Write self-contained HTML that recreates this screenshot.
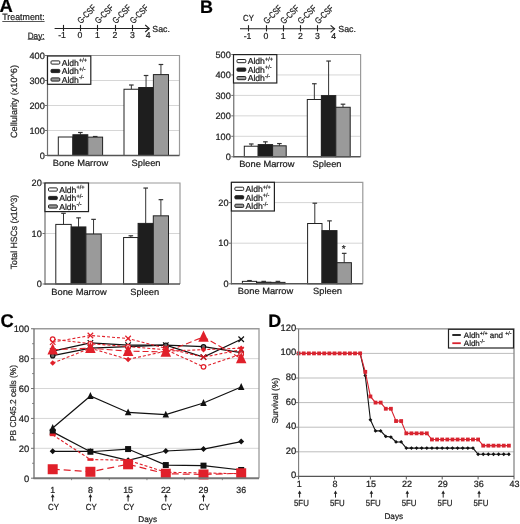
<!DOCTYPE html><html><head><meta charset="utf-8"><style>html,body{margin:0;padding:0;background:#fff;}svg{display:block;will-change:transform;font-family:"Liberation Sans",sans-serif;}text{stroke:#1a1a1a;stroke-width:0.22px;text-rendering:geometricPrecision;}</style></head><body>
<svg width="520" height="524" viewBox="0 0 520 524">
<rect width="520" height="524" fill="#fff"/>
<text x="-0.4" y="12.4" font-size="18.4" text-anchor="start" fill="#000" font-weight="bold" >A</text>
<text x="200.0" y="12.8" font-size="18" text-anchor="start" fill="#000" font-weight="bold" >B</text>
<text x="0.5" y="326.9" font-size="18.4" text-anchor="start" fill="#000" font-weight="bold" >C</text>
<text x="268.3" y="326.8" font-size="18" text-anchor="start" fill="#000" font-weight="bold" >D</text>
<text x="2.3" y="20.3" font-size="9.2" text-anchor="start" fill="#222" font-weight="normal" textLength="42.3" lengthAdjust="spacingAndGlyphs" >Treatment:</text>
<line x1="2.3" y1="21.5" x2="44.6" y2="21.5" stroke="#555" stroke-width="1" />
<text x="27.7" y="38.7" font-size="9.2" text-anchor="start" fill="#222" font-weight="normal" textLength="16.9" lengthAdjust="spacingAndGlyphs" >Day:</text>
<line x1="27.7" y1="39.3" x2="44.6" y2="39.3" stroke="#555" stroke-width="1" />
<line x1="54.6" y1="28.5" x2="149.2" y2="28.5" stroke="#222" stroke-width="1.1" />
<polyline points="145.2,25.0 149.2,28.5 145.2,32.0" fill="none" stroke="#222" stroke-width="1.1"/>
<line x1="63.5" y1="24.9" x2="63.5" y2="31.1" stroke="#222" stroke-width="1.1" />
<line x1="80.5" y1="24.9" x2="80.5" y2="31.1" stroke="#222" stroke-width="1.1" />
<line x1="97.5" y1="24.9" x2="97.5" y2="31.1" stroke="#222" stroke-width="1.1" />
<line x1="115.5" y1="24.9" x2="115.5" y2="31.1" stroke="#222" stroke-width="1.1" />
<line x1="132.5" y1="24.9" x2="132.5" y2="31.1" stroke="#222" stroke-width="1.1" />
<text x="62" y="38.4" font-size="8.7" text-anchor="middle" fill="#222" font-weight="normal" >-1</text>
<text x="80" y="38.4" font-size="8.7" text-anchor="middle" fill="#222" font-weight="normal" >0</text>
<text x="97.5" y="38.4" font-size="8.7" text-anchor="middle" fill="#222" font-weight="normal" >1</text>
<text x="115" y="38.4" font-size="8.7" text-anchor="middle" fill="#222" font-weight="normal" >2</text>
<text x="132.5" y="38.4" font-size="8.7" text-anchor="middle" fill="#222" font-weight="normal" >3</text>
<text x="148.2" y="38.4" font-size="8.7" text-anchor="middle" fill="#222" font-weight="normal" >4</text>
<text transform="translate(80.9,24.2) rotate(-45)" font-size="9" fill="#222" textLength="22.2" lengthAdjust="spacingAndGlyphs">G-CSF</text>
<text transform="translate(98.4,24.2) rotate(-45)" font-size="9" fill="#222" textLength="22.2" lengthAdjust="spacingAndGlyphs">G-CSF</text>
<text transform="translate(115.9,24.2) rotate(-45)" font-size="9" fill="#222" textLength="22.2" lengthAdjust="spacingAndGlyphs">G-CSF</text>
<text transform="translate(133.4,24.2) rotate(-45)" font-size="9" fill="#222" textLength="22.2" lengthAdjust="spacingAndGlyphs">G-CSF</text>
<text x="152.3" y="31.5" font-size="8.8" text-anchor="start" fill="#222" font-weight="normal" >Sac.</text>
<line x1="240" y1="28.8" x2="334.6" y2="28.8" stroke="#222" stroke-width="1.1" />
<polyline points="330.6,25.3 334.6,28.8 330.6,32.3" fill="none" stroke="#222" stroke-width="1.1"/>
<line x1="248.5" y1="25.2" x2="248.5" y2="31.400000000000002" stroke="#222" stroke-width="1.1" />
<line x1="266.5" y1="25.2" x2="266.5" y2="31.400000000000002" stroke="#222" stroke-width="1.1" />
<line x1="283.5" y1="25.2" x2="283.5" y2="31.400000000000002" stroke="#222" stroke-width="1.1" />
<line x1="300.5" y1="25.2" x2="300.5" y2="31.400000000000002" stroke="#222" stroke-width="1.1" />
<line x1="317.5" y1="25.2" x2="317.5" y2="31.400000000000002" stroke="#222" stroke-width="1.1" />
<text x="247.5" y="38.7" font-size="8.7" text-anchor="middle" fill="#222" font-weight="normal" >-1</text>
<text x="266" y="38.7" font-size="8.7" text-anchor="middle" fill="#222" font-weight="normal" >0</text>
<text x="283.2" y="38.7" font-size="8.7" text-anchor="middle" fill="#222" font-weight="normal" >1</text>
<text x="300.4" y="38.7" font-size="8.7" text-anchor="middle" fill="#222" font-weight="normal" >2</text>
<text x="317.5" y="38.7" font-size="8.7" text-anchor="middle" fill="#222" font-weight="normal" >3</text>
<text x="333.6" y="38.7" font-size="8.7" text-anchor="middle" fill="#222" font-weight="normal" >4</text>
<text transform="translate(266.9,24.5) rotate(-45)" font-size="9" fill="#222" textLength="22.2" lengthAdjust="spacingAndGlyphs">G-CSF</text>
<text transform="translate(284.09999999999997,24.5) rotate(-45)" font-size="9" fill="#222" textLength="22.2" lengthAdjust="spacingAndGlyphs">G-CSF</text>
<text transform="translate(301.29999999999995,24.5) rotate(-45)" font-size="9" fill="#222" textLength="22.2" lengthAdjust="spacingAndGlyphs">G-CSF</text>
<text transform="translate(318.4,24.5) rotate(-45)" font-size="9" fill="#222" textLength="22.2" lengthAdjust="spacingAndGlyphs">G-CSF</text>
<text x="338.3" y="31.8" font-size="8.8" text-anchor="start" fill="#222" font-weight="normal" >Sac.</text>
<text x="248.5" y="20.6" font-size="8.8" text-anchor="middle" fill="#222" font-weight="normal" textLength="10.8" lengthAdjust="spacingAndGlyphs" >CY</text>
<line x1="47.5" y1="130.5" x2="179.5" y2="130.5" stroke="#d6d6d6" stroke-width="1" />
<line x1="47.5" y1="105.5" x2="179.5" y2="105.5" stroke="#d6d6d6" stroke-width="1" />
<line x1="47.5" y1="80.5" x2="179.5" y2="80.5" stroke="#d6d6d6" stroke-width="1" />
<polyline points="47.5,55.5 179.5,55.5 179.5,155.5" fill="none" stroke="#9a9a9a" stroke-width="1.2"/>
<rect x="58.3" y="137.0" width="14.600000000000009" height="18.5" fill="#ffffff" stroke="#222" stroke-width="1"/>
<line x1="80.35" y1="134.75" x2="80.35" y2="132.5" stroke="#333" stroke-width="1" />
<line x1="78.05" y1="132.5" x2="82.64999999999999" y2="132.5" stroke="#333" stroke-width="1.2" />
<rect x="72.9" y="134.75" width="14.899999999999991" height="20.75" fill="#1e1e1e" stroke="#222" stroke-width="1"/>
<line x1="95.19999999999999" y1="137.125" x2="95.19999999999999" y2="136.5" stroke="#333" stroke-width="1" />
<line x1="92.89999999999999" y1="136.5" x2="97.49999999999999" y2="136.5" stroke="#333" stroke-width="1.2" />
<rect x="87.8" y="137.125" width="14.799999999999997" height="18.375" fill="#9a9a9a" stroke="#222" stroke-width="1"/>
<line x1="131.35" y1="89.25" x2="131.35" y2="85.0" stroke="#333" stroke-width="1" />
<line x1="129.04999999999998" y1="85.0" x2="133.65" y2="85.0" stroke="#333" stroke-width="1.2" />
<rect x="124" y="89.25" width="14.699999999999989" height="66.25" fill="#ffffff" stroke="#222" stroke-width="1"/>
<line x1="146.05" y1="87.5" x2="146.05" y2="75.5" stroke="#333" stroke-width="1" />
<line x1="143.75" y1="75.5" x2="148.35000000000002" y2="75.5" stroke="#333" stroke-width="1.2" />
<rect x="138.7" y="87.5" width="14.700000000000017" height="68.0" fill="#1e1e1e" stroke="#222" stroke-width="1"/>
<line x1="160.95" y1="74.6" x2="160.95" y2="64.5" stroke="#333" stroke-width="1" />
<line x1="158.64999999999998" y1="64.5" x2="163.25" y2="64.5" stroke="#333" stroke-width="1.2" />
<rect x="153.4" y="74.6" width="15.099999999999994" height="80.9" fill="#9a9a9a" stroke="#222" stroke-width="1"/>
<line x1="47.5" y1="55.5" x2="47.5" y2="156.0" stroke="#6e6e6e" stroke-width="1.2" />
<line x1="47.0" y1="155.5" x2="179.5" y2="155.5" stroke="#555" stroke-width="1.4" />
<line x1="45.0" y1="155.5" x2="47.5" y2="155.5" stroke="#6e6e6e" stroke-width="1" />
<text x="44.8" y="158.7" font-size="9.2" text-anchor="end" fill="#222" font-weight="normal" >0</text>
<line x1="45.0" y1="130.5" x2="47.5" y2="130.5" stroke="#6e6e6e" stroke-width="1" />
<text x="44.8" y="133.7" font-size="9.2" text-anchor="end" fill="#222" font-weight="normal" >100</text>
<line x1="45.0" y1="105.5" x2="47.5" y2="105.5" stroke="#6e6e6e" stroke-width="1" />
<text x="44.8" y="108.7" font-size="9.2" text-anchor="end" fill="#222" font-weight="normal" >200</text>
<line x1="45.0" y1="80.5" x2="47.5" y2="80.5" stroke="#6e6e6e" stroke-width="1" />
<text x="44.8" y="83.7" font-size="9.2" text-anchor="end" fill="#222" font-weight="normal" >300</text>
<line x1="45.0" y1="55.5" x2="47.5" y2="55.5" stroke="#6e6e6e" stroke-width="1" />
<text x="44.8" y="58.7" font-size="9.2" text-anchor="end" fill="#222" font-weight="normal" >400</text>
<rect x="47.5" y="56" width="43.3" height="28.3" fill="#fff" stroke="#222" stroke-width="1.2"/>
<rect x="51.0" y="60.9" width="8.8" height="3.2" rx="0.9" fill="#fff" stroke="#222" stroke-width="1"/>
<text x="61.7" y="65.7" font-size="8.6" fill="#222">Aldh<tspan font-size="5.6" dy="-3.4">+/+</tspan></text>
<rect x="51.0" y="69.4" width="8.8" height="3.2" rx="0.9" fill="#1e1e1e" stroke="#222" stroke-width="1"/>
<text x="61.7" y="74.2" font-size="8.6" fill="#222">Aldh<tspan font-size="5.6" dy="-3.4">+/-</tspan></text>
<rect x="51.0" y="77.9" width="8.8" height="3.2" rx="0.9" fill="#999" stroke="#222" stroke-width="1"/>
<text x="61.7" y="82.7" font-size="8.6" fill="#222">Aldh<tspan font-size="5.6" dy="-3.4">-/-</tspan></text>
<text x="80.5" y="166.0" font-size="9" text-anchor="middle" fill="#222" font-weight="normal" textLength="55.5" lengthAdjust="spacingAndGlyphs" >Bone Marrow</text>
<text x="146" y="166.0" font-size="9" text-anchor="middle" fill="#222" font-weight="normal" textLength="29" lengthAdjust="spacingAndGlyphs" >Spleen</text>
<text transform="translate(17.1,101.5) rotate(-90)" text-anchor="middle" font-size="9" fill="#333" textLength="73" lengthAdjust="spacingAndGlyphs">Cellularity (x10^6)</text>
<line x1="45" y1="233.5" x2="180" y2="233.5" stroke="#d6d6d6" stroke-width="1" />
<polyline points="45,183 180,183 180,284" fill="none" stroke="#9a9a9a" stroke-width="1.2"/>
<line x1="63.5" y1="224.41" x2="63.5" y2="213.3" stroke="#333" stroke-width="1" />
<line x1="61.2" y1="213.3" x2="65.8" y2="213.3" stroke="#333" stroke-width="1.2" />
<rect x="55.8" y="224.41" width="15.400000000000006" height="59.59" fill="#ffffff" stroke="#222" stroke-width="1"/>
<line x1="78.55000000000001" y1="226.935" x2="78.55000000000001" y2="217.845" stroke="#333" stroke-width="1" />
<line x1="76.25000000000001" y1="217.845" x2="80.85000000000001" y2="217.845" stroke="#333" stroke-width="1.2" />
<rect x="71.2" y="226.935" width="14.700000000000003" height="57.065" fill="#1e1e1e" stroke="#222" stroke-width="1"/>
<line x1="93.55000000000001" y1="234.005" x2="93.55000000000001" y2="219.35999999999999" stroke="#333" stroke-width="1" />
<line x1="91.25000000000001" y1="219.35999999999999" x2="95.85000000000001" y2="219.35999999999999" stroke="#333" stroke-width="1.2" />
<rect x="85.9" y="234.005" width="15.299999999999997" height="49.995000000000005" fill="#9a9a9a" stroke="#222" stroke-width="1"/>
<line x1="130.85" y1="237.54000000000002" x2="130.85" y2="235.77249999999998" stroke="#333" stroke-width="1" />
<line x1="128.54999999999998" y1="235.77249999999998" x2="133.15" y2="235.77249999999998" stroke="#333" stroke-width="1.2" />
<rect x="123.6" y="237.54000000000002" width="14.5" height="46.45999999999998" fill="#ffffff" stroke="#222" stroke-width="1"/>
<line x1="145.7" y1="223.4" x2="145.7" y2="188.05" stroke="#333" stroke-width="1" />
<line x1="143.39999999999998" y1="188.05" x2="148.0" y2="188.05" stroke="#333" stroke-width="1.2" />
<rect x="138.1" y="223.4" width="15.200000000000017" height="60.599999999999994" fill="#1e1e1e" stroke="#222" stroke-width="1"/>
<line x1="160.9" y1="215.825" x2="160.9" y2="199.66500000000002" stroke="#333" stroke-width="1" />
<line x1="158.6" y1="199.66500000000002" x2="163.20000000000002" y2="199.66500000000002" stroke="#333" stroke-width="1.2" />
<rect x="153.3" y="215.825" width="15.199999999999989" height="68.17500000000001" fill="#9a9a9a" stroke="#222" stroke-width="1"/>
<line x1="45" y1="183" x2="45" y2="284.5" stroke="#6e6e6e" stroke-width="1.2" />
<line x1="44.5" y1="284" x2="180" y2="284" stroke="#555" stroke-width="1.4" />
<line x1="42.5" y1="284.0" x2="45" y2="284.0" stroke="#6e6e6e" stroke-width="1" />
<text x="41.8" y="287.2" font-size="9.2" text-anchor="end" fill="#222" font-weight="normal" >0</text>
<line x1="42.5" y1="233.5" x2="45" y2="233.5" stroke="#6e6e6e" stroke-width="1" />
<text x="41.8" y="236.7" font-size="9.2" text-anchor="end" fill="#222" font-weight="normal" >10</text>
<line x1="42.5" y1="183.0" x2="45" y2="183.0" stroke="#6e6e6e" stroke-width="1" />
<text x="41.8" y="186.2" font-size="9.2" text-anchor="end" fill="#222" font-weight="normal" >20</text>
<rect x="45" y="183" width="43.5" height="28.6" fill="#fff" stroke="#222" stroke-width="1.2"/>
<rect x="48.5" y="187.9" width="8.8" height="3.2" rx="0.9" fill="#fff" stroke="#222" stroke-width="1"/>
<text x="59.2" y="192.7" font-size="8.6" fill="#222">Aldh<tspan font-size="5.6" dy="-3.4">+/+</tspan></text>
<rect x="48.5" y="196.4" width="8.8" height="3.2" rx="0.9" fill="#1e1e1e" stroke="#222" stroke-width="1"/>
<text x="59.2" y="201.2" font-size="8.6" fill="#222">Aldh<tspan font-size="5.6" dy="-3.4">+/-</tspan></text>
<rect x="48.5" y="204.9" width="8.8" height="3.2" rx="0.9" fill="#999" stroke="#222" stroke-width="1"/>
<text x="59.2" y="209.7" font-size="8.6" fill="#222">Aldh<tspan font-size="5.6" dy="-3.4">-/-</tspan></text>
<text x="79" y="294.5" font-size="9" text-anchor="middle" fill="#222" font-weight="normal" textLength="55.5" lengthAdjust="spacingAndGlyphs" >Bone Marrow</text>
<text x="144.7" y="294.5" font-size="9" text-anchor="middle" fill="#222" font-weight="normal" textLength="29" lengthAdjust="spacingAndGlyphs" >Spleen</text>
<text transform="translate(16.5,232) rotate(-90)" text-anchor="middle" font-size="9" fill="#333" textLength="74.5" lengthAdjust="spacingAndGlyphs">Total HSCs (x10^3)</text>
<line x1="233.75" y1="136.3" x2="360.6" y2="136.3" stroke="#d6d6d6" stroke-width="1" />
<line x1="233.75" y1="115.85" x2="360.6" y2="115.85" stroke="#d6d6d6" stroke-width="1" />
<line x1="233.75" y1="95.4" x2="360.6" y2="95.4" stroke="#d6d6d6" stroke-width="1" />
<line x1="233.75" y1="74.95" x2="360.6" y2="74.95" stroke="#d6d6d6" stroke-width="1" />
<polyline points="233.75,54.5 360.6,54.5 360.6,156.75" fill="none" stroke="#9a9a9a" stroke-width="1.2"/>
<line x1="251.25" y1="146.21825" x2="251.25" y2="143.96875" stroke="#333" stroke-width="1" />
<line x1="248.95" y1="143.96875" x2="253.55" y2="143.96875" stroke="#333" stroke-width="1.2" />
<rect x="244.3" y="146.21825" width="13.899999999999977" height="10.531749999999988" fill="#ffffff" stroke="#222" stroke-width="1"/>
<line x1="265.4" y1="144.58225" x2="265.4" y2="141.82150000000001" stroke="#333" stroke-width="1" />
<line x1="263.09999999999997" y1="141.82150000000001" x2="267.7" y2="141.82150000000001" stroke="#333" stroke-width="1.2" />
<rect x="258.2" y="144.58225" width="14.400000000000034" height="12.167750000000012" fill="#1e1e1e" stroke="#222" stroke-width="1"/>
<line x1="279.4" y1="145.80925" x2="279.4" y2="143.55975" stroke="#333" stroke-width="1" />
<line x1="277.09999999999997" y1="143.55975" x2="281.7" y2="143.55975" stroke="#333" stroke-width="1.2" />
<rect x="272.6" y="145.80925" width="13.599999999999966" height="10.940750000000008" fill="#9a9a9a" stroke="#222" stroke-width="1"/>
<line x1="314.35" y1="99.49000000000001" x2="314.35" y2="83.7435" stroke="#333" stroke-width="1" />
<line x1="312.05" y1="83.7435" x2="316.65000000000003" y2="83.7435" stroke="#333" stroke-width="1.2" />
<rect x="307.3" y="99.49000000000001" width="14.099999999999966" height="57.25999999999999" fill="#ffffff" stroke="#222" stroke-width="1"/>
<line x1="328.6" y1="95.6045" x2="328.6" y2="61.044" stroke="#333" stroke-width="1" />
<line x1="326.3" y1="61.044" x2="330.90000000000003" y2="61.044" stroke="#333" stroke-width="1.2" />
<rect x="321.4" y="95.6045" width="14.400000000000034" height="61.1455" fill="#1e1e1e" stroke="#222" stroke-width="1"/>
<line x1="343.0" y1="107.261" x2="343.0" y2="104.1935" stroke="#333" stroke-width="1" />
<line x1="340.7" y1="104.1935" x2="345.3" y2="104.1935" stroke="#333" stroke-width="1.2" />
<rect x="335.8" y="107.261" width="14.399999999999977" height="49.489000000000004" fill="#9a9a9a" stroke="#222" stroke-width="1"/>
<line x1="233.75" y1="54.5" x2="233.75" y2="157.25" stroke="#6e6e6e" stroke-width="1.2" />
<line x1="233.25" y1="156.75" x2="360.6" y2="156.75" stroke="#555" stroke-width="1.4" />
<line x1="231.25" y1="156.75" x2="233.75" y2="156.75" stroke="#6e6e6e" stroke-width="1" />
<text x="230.8" y="159.95" font-size="9.2" text-anchor="end" fill="#222" font-weight="normal" >0</text>
<line x1="231.25" y1="136.3" x2="233.75" y2="136.3" stroke="#6e6e6e" stroke-width="1" />
<text x="230.8" y="139.5" font-size="9.2" text-anchor="end" fill="#222" font-weight="normal" >100</text>
<line x1="231.25" y1="115.85" x2="233.75" y2="115.85" stroke="#6e6e6e" stroke-width="1" />
<text x="230.8" y="119.05" font-size="9.2" text-anchor="end" fill="#222" font-weight="normal" >200</text>
<line x1="231.25" y1="95.4" x2="233.75" y2="95.4" stroke="#6e6e6e" stroke-width="1" />
<text x="230.8" y="98.60000000000001" font-size="9.2" text-anchor="end" fill="#222" font-weight="normal" >300</text>
<line x1="231.25" y1="74.95" x2="233.75" y2="74.95" stroke="#6e6e6e" stroke-width="1" />
<text x="230.8" y="78.15" font-size="9.2" text-anchor="end" fill="#222" font-weight="normal" >400</text>
<line x1="231.25" y1="54.5" x2="233.75" y2="54.5" stroke="#6e6e6e" stroke-width="1" />
<text x="230.8" y="57.7" font-size="9.2" text-anchor="end" fill="#222" font-weight="normal" >500</text>
<rect x="233.5" y="54.6" width="43.3" height="28.4" fill="#fff" stroke="#222" stroke-width="1.2"/>
<rect x="237.0" y="59.5" width="8.8" height="3.2" rx="0.9" fill="#fff" stroke="#222" stroke-width="1"/>
<text x="247.7" y="64.3" font-size="8.6" fill="#222">Aldh<tspan font-size="5.6" dy="-3.4">+/+</tspan></text>
<rect x="237.0" y="68.0" width="8.8" height="3.2" rx="0.9" fill="#1e1e1e" stroke="#222" stroke-width="1"/>
<text x="247.7" y="72.8" font-size="8.6" fill="#222">Aldh<tspan font-size="5.6" dy="-3.4">+/-</tspan></text>
<rect x="237.0" y="76.5" width="8.8" height="3.2" rx="0.9" fill="#999" stroke="#222" stroke-width="1"/>
<text x="247.7" y="81.3" font-size="8.6" fill="#222">Aldh<tspan font-size="5.6" dy="-3.4">-/-</tspan></text>
<text x="266.8" y="167.25" font-size="9" text-anchor="middle" fill="#222" font-weight="normal" textLength="55.3" lengthAdjust="spacingAndGlyphs" >Bone Marrow</text>
<text x="327" y="167.25" font-size="9" text-anchor="middle" fill="#222" font-weight="normal" textLength="29" lengthAdjust="spacingAndGlyphs" >Spleen</text>
<line x1="231.4" y1="243.20000000000002" x2="362.8" y2="243.20000000000002" stroke="#d6d6d6" stroke-width="1" />
<line x1="231.4" y1="202.60000000000002" x2="362.8" y2="202.60000000000002" stroke="#d6d6d6" stroke-width="1" />
<polyline points="231.4,182.3 362.8,182.3 362.8,283.8" fill="none" stroke="#9a9a9a" stroke-width="1.2"/>
<line x1="249.5" y1="281.36400000000003" x2="249.5" y2="280.552" stroke="#333" stroke-width="1" />
<line x1="247.2" y1="280.552" x2="251.8" y2="280.552" stroke="#333" stroke-width="1.2" />
<rect x="242.4" y="281.36400000000003" width="14.200000000000017" height="2.4359999999999786" fill="#ffffff" stroke="#222" stroke-width="1"/>
<line x1="263.70000000000005" y1="282.176" x2="263.70000000000005" y2="281.36400000000003" stroke="#333" stroke-width="1" />
<line x1="261.40000000000003" y1="281.36400000000003" x2="266.00000000000006" y2="281.36400000000003" stroke="#333" stroke-width="1.2" />
<rect x="256.6" y="282.176" width="14.199999999999989" height="1.6240000000000236" fill="#1e1e1e" stroke="#222" stroke-width="1"/>
<line x1="277.9" y1="282.379" x2="277.9" y2="281.36400000000003" stroke="#333" stroke-width="1" />
<line x1="275.59999999999997" y1="281.36400000000003" x2="280.2" y2="281.36400000000003" stroke="#333" stroke-width="1.2" />
<rect x="270.8" y="282.379" width="14.199999999999989" height="1.4209999999999923" fill="#9a9a9a" stroke="#222" stroke-width="1"/>
<line x1="314.8" y1="223.50900000000001" x2="314.8" y2="203.209" stroke="#333" stroke-width="1" />
<line x1="312.5" y1="203.209" x2="317.1" y2="203.209" stroke="#333" stroke-width="1.2" />
<rect x="307.6" y="223.50900000000001" width="14.399999999999977" height="60.291" fill="#ffffff" stroke="#222" stroke-width="1"/>
<line x1="329.5" y1="230.61400000000003" x2="329.5" y2="220.87" stroke="#333" stroke-width="1" />
<line x1="327.2" y1="220.87" x2="331.8" y2="220.87" stroke="#333" stroke-width="1.2" />
<rect x="322" y="230.61400000000003" width="15" height="53.18599999999998" fill="#1e1e1e" stroke="#222" stroke-width="1"/>
<line x1="344.2" y1="262.688" x2="344.2" y2="253.35000000000002" stroke="#333" stroke-width="1" />
<line x1="341.9" y1="253.35000000000002" x2="346.5" y2="253.35000000000002" stroke="#333" stroke-width="1.2" />
<rect x="337" y="262.688" width="14.399999999999977" height="21.112000000000023" fill="#9a9a9a" stroke="#222" stroke-width="1"/>
<line x1="231.4" y1="182.3" x2="231.4" y2="284.3" stroke="#6e6e6e" stroke-width="1.2" />
<line x1="230.9" y1="283.8" x2="362.8" y2="283.8" stroke="#555" stroke-width="1.4" />
<line x1="228.9" y1="283.8" x2="231.4" y2="283.8" stroke="#6e6e6e" stroke-width="1" />
<text x="228.5" y="287.0" font-size="9.2" text-anchor="end" fill="#222" font-weight="normal" >0</text>
<line x1="228.9" y1="243.20000000000002" x2="231.4" y2="243.20000000000002" stroke="#6e6e6e" stroke-width="1" />
<text x="228.5" y="246.4" font-size="9.2" text-anchor="end" fill="#222" font-weight="normal" >10</text>
<line x1="228.9" y1="202.60000000000002" x2="231.4" y2="202.60000000000002" stroke="#6e6e6e" stroke-width="1" />
<text x="228.5" y="205.8" font-size="9.2" text-anchor="end" fill="#222" font-weight="normal" >20</text>
<rect x="231.4" y="182.3" width="43" height="28.7" fill="#fff" stroke="#222" stroke-width="1.2"/>
<rect x="234.9" y="187.20000000000002" width="8.8" height="3.2" rx="0.9" fill="#fff" stroke="#222" stroke-width="1"/>
<text x="245.6" y="192.0" font-size="8.6" fill="#222">Aldh<tspan font-size="5.6" dy="-3.4">+/+</tspan></text>
<rect x="234.9" y="195.70000000000002" width="8.8" height="3.2" rx="0.9" fill="#1e1e1e" stroke="#222" stroke-width="1"/>
<text x="245.6" y="200.5" font-size="8.6" fill="#222">Aldh<tspan font-size="5.6" dy="-3.4">+/-</tspan></text>
<rect x="234.9" y="204.20000000000002" width="8.8" height="3.2" rx="0.9" fill="#999" stroke="#222" stroke-width="1"/>
<text x="245.6" y="209.0" font-size="8.6" fill="#222">Aldh<tspan font-size="5.6" dy="-3.4">-/-</tspan></text>
<text x="265.5" y="294.3" font-size="9" text-anchor="middle" fill="#222" font-weight="normal" textLength="55.3" lengthAdjust="spacingAndGlyphs" >Bone Marrow</text>
<text x="327.5" y="294.3" font-size="9" text-anchor="middle" fill="#222" font-weight="normal" textLength="29" lengthAdjust="spacingAndGlyphs" >Spleen</text>
<text x="343.8" y="251.5" font-size="10" text-anchor="middle" fill="#333" font-weight="normal" >*</text>
<line x1="34" y1="448.31" x2="259" y2="448.31" stroke="#d6d6d6" stroke-width="1" />
<line x1="34" y1="418.41999999999996" x2="259" y2="418.41999999999996" stroke="#d6d6d6" stroke-width="1" />
<line x1="34" y1="388.53" x2="259" y2="388.53" stroke="#d6d6d6" stroke-width="1" />
<line x1="34" y1="358.64" x2="259" y2="358.64" stroke="#d6d6d6" stroke-width="1" />
<polyline points="34,328.75 259,328.75 259,478.2" fill="none" stroke="#9a9a9a" stroke-width="1.3"/>
<polyline points="52.70,351.17 90.40,342.95 128.10,345.19 165.80,345.19 203.50,357.15 241.20,339.21" fill="none" stroke="#111" stroke-width="1.2"/>
<path d="M49.95,348.4175L55.45,353.9175M49.95,353.9175L55.45,348.4175" stroke="#111" stroke-width="1.2"/>
<path d="M87.65,340.19775000000004L93.15,345.69775000000004M87.65,345.69775000000004L93.15,340.19775000000004" stroke="#111" stroke-width="1.2"/>
<path d="M125.35000000000002,342.4395L130.85000000000002,347.9395M125.35000000000002,347.9395L130.85000000000002,342.4395" stroke="#111" stroke-width="1.2"/>
<path d="M163.05,342.4395L168.55,347.9395M163.05,347.9395L168.55,342.4395" stroke="#111" stroke-width="1.2"/>
<path d="M200.75,354.39549999999997L206.25,359.89549999999997M200.75,359.89549999999997L206.25,354.39549999999997" stroke="#111" stroke-width="1.2"/>
<path d="M238.45,336.4615L243.95,341.9615M238.45,341.9615L243.95,336.4615" stroke="#111" stroke-width="1.2"/>
<polyline points="52.70,355.65 90.40,348.18 128.10,346.68 165.80,345.19 203.50,346.68 241.20,352.66" fill="none" stroke="#111" stroke-width="1.2"/>
<circle cx="52.7" cy="355.651" r="2.2" fill="#666" stroke="#111" stroke-width="1.2"/>
<circle cx="90.4" cy="348.1785" r="2.2" fill="#666" stroke="#111" stroke-width="1.2"/>
<circle cx="128.10000000000002" cy="346.68399999999997" r="2.2" fill="#666" stroke="#111" stroke-width="1.2"/>
<circle cx="165.8" cy="345.1895" r="2.2" fill="#666" stroke="#111" stroke-width="1.2"/>
<circle cx="203.5" cy="346.68399999999997" r="2.2" fill="#666" stroke="#111" stroke-width="1.2"/>
<circle cx="241.2" cy="352.662" r="2.2" fill="#666" stroke="#111" stroke-width="1.2"/>
<polyline points="52.70,427.98 90.40,396.00 128.10,412.44 165.80,414.68 203.50,403.03 241.20,387.04" fill="none" stroke="#111" stroke-width="1.2"/>
<polygon points="52.7,423.95480000000003 49.45,430.9098 55.95,430.9098" fill="#111"/>
<polygon points="90.4,391.9725 87.15,398.9275 93.65,398.9275" fill="#111"/>
<polygon points="128.10000000000002,408.41200000000003 124.85000000000002,415.367 131.35000000000002,415.367" fill="#111"/>
<polygon points="165.8,410.65375 162.55,417.60875 169.05,417.60875" fill="#111"/>
<polygon points="203.5,398.99665000000005 200.25,405.95165000000003 206.75,405.95165000000003" fill="#111"/>
<polygon points="241.2,383.00550000000004 237.95,389.9605 244.45,389.9605" fill="#111"/>
<polyline points="52.70,431.87 90.40,451.75 128.10,449.06 165.80,465.05 203.50,465.65 241.20,469.98" fill="none" stroke="#111" stroke-width="1.2"/>
<rect x="49.7" y="428.8705" width="6" height="6" fill="#111"/>
<rect x="87.4" y="448.74735" width="6" height="6" fill="#111"/>
<rect x="125.10000000000002" y="446.05725" width="6" height="6" fill="#111"/>
<rect x="162.8" y="462.0484" width="6" height="6" fill="#111"/>
<rect x="200.5" y="462.64619999999996" width="6" height="6" fill="#111"/>
<rect x="238.2" y="466.98025" width="6" height="6" fill="#111"/>
<polyline points="52.70,451.30 90.40,451.30 128.10,460.27 165.80,451.00 203.50,449.06 241.20,441.58" fill="none" stroke="#111" stroke-width="1.2"/>
<polygon points="52.7,448.299 55.7,451.299 52.7,454.299 49.7,451.299" fill="#111"/>
<polygon points="90.4,448.299 93.4,451.299 90.4,454.299 87.4,451.299" fill="#111"/>
<polygon points="128.10000000000002,457.26599999999996 131.10000000000002,460.26599999999996 128.10000000000002,463.26599999999996 125.10000000000002,460.26599999999996" fill="#111"/>
<polygon points="165.8,448.0001 168.8,451.0001 165.8,454.0001 162.8,451.0001" fill="#111"/>
<polygon points="203.5,446.05725 206.5,449.05725 203.5,452.05725 200.5,449.05725" fill="#111"/>
<polygon points="241.2,438.58475 244.2,441.58475 241.2,444.58475 238.2,441.58475" fill="#111"/>
<polyline points="52.70,339.21 90.40,343.69 128.10,346.68 165.80,349.67 203.50,366.86 241.20,354.16" fill="none" stroke="#e0202a" stroke-width="1.1" stroke-dasharray="3,2"/>
<circle cx="52.7" cy="339.2115" r="2.3" fill="#fff" stroke="#e0202a" stroke-width="1.2"/>
<circle cx="90.4" cy="343.695" r="2.3" fill="#fff" stroke="#e0202a" stroke-width="1.2"/>
<circle cx="128.10000000000002" cy="346.68399999999997" r="2.3" fill="#fff" stroke="#e0202a" stroke-width="1.2"/>
<circle cx="165.8" cy="349.673" r="2.3" fill="#fff" stroke="#e0202a" stroke-width="1.2"/>
<circle cx="203.5" cy="366.85974999999996" r="2.3" fill="#fff" stroke="#e0202a" stroke-width="1.2"/>
<circle cx="241.2" cy="354.1565" r="2.3" fill="#fff" stroke="#e0202a" stroke-width="1.2"/>
<polyline points="52.70,342.20 90.40,335.48 128.10,338.46 165.80,348.18 203.50,357.15 241.20,349.67" fill="none" stroke="#e0202a" stroke-width="1.1" stroke-dasharray="3,2"/>
<path d="M49.95,339.45050000000003L55.45,344.95050000000003M49.95,344.95050000000003L55.45,339.45050000000003" stroke="#e0202a" stroke-width="1.2"/>
<path d="M87.65,332.72525L93.15,338.22525M87.65,338.22525L93.15,332.72525" stroke="#e0202a" stroke-width="1.2"/>
<path d="M125.35000000000002,335.71425L130.85000000000002,341.21425M125.35000000000002,341.21425L130.85000000000002,335.71425" stroke="#e0202a" stroke-width="1.2"/>
<path d="M163.05,345.4285L168.55,350.9285M163.05,350.9285L168.55,345.4285" stroke="#e0202a" stroke-width="1.2"/>
<path d="M200.75,354.39549999999997L206.25,359.89549999999997M200.75,359.89549999999997L206.25,354.39549999999997" stroke="#e0202a" stroke-width="1.2"/>
<path d="M238.45,346.923L243.95,352.423M238.45,352.423L243.95,346.923" stroke="#e0202a" stroke-width="1.2"/>
<polyline points="52.70,363.12 90.40,348.18 128.10,359.39 165.80,351.17 203.50,349.67 241.20,348.18" fill="none" stroke="#e0202a" stroke-width="1.1" stroke-dasharray="3,2"/>
<polygon points="52.7,360.3735 55.45,363.1235 52.7,365.8735 49.95,363.1235" fill="#e0202a"/>
<polygon points="90.4,345.4285 93.15,348.1785 90.4,350.9285 87.65,348.1785" fill="#e0202a"/>
<polygon points="128.10000000000002,356.63725 130.85000000000002,359.38725 128.10000000000002,362.13725 125.35000000000002,359.38725" fill="#e0202a"/>
<polygon points="165.8,348.4175 168.55,351.1675 165.8,353.9175 163.05,351.1675" fill="#e0202a"/>
<polygon points="203.5,346.923 206.25,349.673 203.5,352.423 200.75,349.673" fill="#e0202a"/>
<polygon points="241.2,345.4285 243.95,348.1785 241.2,350.9285 238.45,348.1785" fill="#e0202a"/>
<polyline points="52.70,349.67 90.40,348.18 128.10,351.17 165.80,351.91 203.50,336.97 241.20,358.64" fill="none" stroke="#e0202a" stroke-width="1.1" stroke-dasharray="6,3"/>
<polygon points="52.7,343.163 47.45,354.398 57.95,354.398" fill="#e0202a"/>
<polygon points="90.4,341.6685 85.15,352.9035 95.65,352.9035" fill="#e0202a"/>
<polygon points="128.10000000000002,344.6575 122.85000000000002,355.89250000000004 133.35000000000002,355.89250000000004" fill="#e0202a"/>
<polygon points="165.8,345.40475000000004 160.55,356.63975000000005 171.05,356.63975000000005" fill="#e0202a"/>
<polygon points="203.5,330.45975 198.25,341.69475 208.75,341.69475" fill="#e0202a"/>
<polygon points="241.2,352.13 235.95,363.365 246.45,363.365" fill="#e0202a"/>
<polyline points="52.70,434.86 90.40,459.52 128.10,460.27 165.80,472.22 203.50,472.97 241.20,473.72" fill="none" stroke="#e0202a" stroke-width="1.1" stroke-dasharray="3,2"/>
<rect x="49.7" y="433.5595" width="6" height="2.6" fill="#e0202a"/>
<rect x="87.4" y="458.21875" width="6" height="2.6" fill="#e0202a"/>
<rect x="125.10000000000002" y="458.96599999999995" width="6" height="2.6" fill="#e0202a"/>
<rect x="162.8" y="470.92199999999997" width="6" height="2.6" fill="#e0202a"/>
<rect x="200.5" y="471.66925" width="6" height="2.6" fill="#e0202a"/>
<rect x="238.2" y="472.4165" width="6" height="2.6" fill="#e0202a"/>
<polyline points="52.70,469.23 90.40,471.77 128.10,464.30 165.80,473.72 203.50,474.46 241.20,473.27" fill="none" stroke="#e0202a" stroke-width="1.2" stroke-dasharray="7,4"/>
<rect x="47.7" y="464.233" width="10" height="10" fill="#e0202a"/>
<rect x="85.4" y="466.77365" width="10" height="10" fill="#e0202a"/>
<rect x="123.10000000000002" y="459.30115" width="10" height="10" fill="#e0202a"/>
<rect x="160.8" y="468.7165" width="10" height="10" fill="#e0202a"/>
<rect x="198.5" y="469.46375" width="10" height="10" fill="#e0202a"/>
<rect x="236.2" y="468.26815" width="10" height="10" fill="#e0202a"/>
<line x1="34" y1="328.75" x2="34" y2="478.7" stroke="#6e6e6e" stroke-width="1.3" />
<line x1="33.5" y1="478.2" x2="259" y2="478.2" stroke="#777" stroke-width="2" />
<line x1="31" y1="478.2" x2="34" y2="478.2" stroke="#6e6e6e" stroke-width="1" />
<text x="29.3" y="481.59999999999997" font-size="9.4" text-anchor="end" fill="#222" font-weight="normal" >0</text>
<line x1="31" y1="448.31" x2="34" y2="448.31" stroke="#6e6e6e" stroke-width="1" />
<text x="29.3" y="451.71" font-size="9.4" text-anchor="end" fill="#222" font-weight="normal" >20</text>
<line x1="31" y1="418.41999999999996" x2="34" y2="418.41999999999996" stroke="#6e6e6e" stroke-width="1" />
<text x="29.3" y="421.81999999999994" font-size="9.4" text-anchor="end" fill="#222" font-weight="normal" >40</text>
<line x1="31" y1="388.53" x2="34" y2="388.53" stroke="#6e6e6e" stroke-width="1" />
<text x="29.3" y="391.92999999999995" font-size="9.4" text-anchor="end" fill="#222" font-weight="normal" >60</text>
<line x1="31" y1="358.64" x2="34" y2="358.64" stroke="#6e6e6e" stroke-width="1" />
<text x="29.3" y="362.03999999999996" font-size="9.4" text-anchor="end" fill="#222" font-weight="normal" >80</text>
<line x1="31" y1="328.75" x2="34" y2="328.75" stroke="#6e6e6e" stroke-width="1" />
<text x="29.3" y="332.15" font-size="9.4" text-anchor="end" fill="#222" font-weight="normal" >100</text>
<line x1="32" y1="463.255" x2="34" y2="463.255" stroke="#6e6e6e" stroke-width="0.8" />
<line x1="32" y1="433.365" x2="34" y2="433.365" stroke="#6e6e6e" stroke-width="0.8" />
<line x1="32" y1="403.475" x2="34" y2="403.475" stroke="#6e6e6e" stroke-width="0.8" />
<line x1="32" y1="373.585" x2="34" y2="373.585" stroke="#6e6e6e" stroke-width="0.8" />
<line x1="32" y1="343.695" x2="34" y2="343.695" stroke="#6e6e6e" stroke-width="0.8" />
<line x1="71.55000000000001" y1="478.2" x2="71.55000000000001" y2="480.2" stroke="#6e6e6e" stroke-width="0.8" />
<line x1="109.25" y1="478.2" x2="109.25" y2="480.2" stroke="#6e6e6e" stroke-width="0.8" />
<line x1="146.95" y1="478.2" x2="146.95" y2="480.2" stroke="#6e6e6e" stroke-width="0.8" />
<line x1="184.64999999999998" y1="478.2" x2="184.64999999999998" y2="480.2" stroke="#6e6e6e" stroke-width="0.8" />
<line x1="222.35000000000002" y1="478.2" x2="222.35000000000002" y2="480.2" stroke="#6e6e6e" stroke-width="0.8" />
<text x="52.7" y="492.5" font-size="8.8" text-anchor="middle" fill="#222" font-weight="normal" >1</text>
<line x1="52.7" y1="496" x2="52.7" y2="501.5" stroke="#222" stroke-width="1" />
<polygon points="52.7,494 50.900000000000006,497.2 54.5,497.2" fill="#222"/>
<text x="53.5" y="510.3" font-size="8.8" text-anchor="middle" fill="#222" font-weight="normal" textLength="11" lengthAdjust="spacingAndGlyphs" >CY</text>
<text x="90.4" y="492.5" font-size="8.8" text-anchor="middle" fill="#222" font-weight="normal" >8</text>
<line x1="90.4" y1="496" x2="90.4" y2="501.5" stroke="#222" stroke-width="1" />
<polygon points="90.4,494 88.60000000000001,497.2 92.2,497.2" fill="#222"/>
<text x="91.2" y="510.3" font-size="8.8" text-anchor="middle" fill="#222" font-weight="normal" textLength="11" lengthAdjust="spacingAndGlyphs" >CY</text>
<text x="128.10000000000002" y="492.5" font-size="8.8" text-anchor="middle" fill="#222" font-weight="normal" >15</text>
<line x1="128.10000000000002" y1="496" x2="128.10000000000002" y2="501.5" stroke="#222" stroke-width="1" />
<polygon points="128.10000000000002,494 126.30000000000003,497.2 129.90000000000003,497.2" fill="#222"/>
<text x="128.90000000000003" y="510.3" font-size="8.8" text-anchor="middle" fill="#222" font-weight="normal" textLength="11" lengthAdjust="spacingAndGlyphs" >CY</text>
<text x="165.8" y="492.5" font-size="8.8" text-anchor="middle" fill="#222" font-weight="normal" >22</text>
<line x1="165.8" y1="496" x2="165.8" y2="501.5" stroke="#222" stroke-width="1" />
<polygon points="165.8,494 164.0,497.2 167.60000000000002,497.2" fill="#222"/>
<text x="166.60000000000002" y="510.3" font-size="8.8" text-anchor="middle" fill="#222" font-weight="normal" textLength="11" lengthAdjust="spacingAndGlyphs" >CY</text>
<text x="203.5" y="492.5" font-size="8.8" text-anchor="middle" fill="#222" font-weight="normal" >29</text>
<line x1="203.5" y1="496" x2="203.5" y2="501.5" stroke="#222" stroke-width="1" />
<polygon points="203.5,494 201.7,497.2 205.3,497.2" fill="#222"/>
<text x="204.3" y="510.3" font-size="8.8" text-anchor="middle" fill="#222" font-weight="normal" textLength="11" lengthAdjust="spacingAndGlyphs" >CY</text>
<text x="241.2" y="492.5" font-size="8.8" text-anchor="middle" fill="#222" font-weight="normal" >36</text>
<text x="147.7" y="521.5" font-size="8.2" text-anchor="middle" fill="#222" font-weight="normal" >Days</text>
<text transform="translate(16.3,403) rotate(-90)" text-anchor="middle" font-size="8.6" fill="#333" textLength="76" lengthAdjust="spacingAndGlyphs">PB CD45.2 cells (%)</text>
<line x1="298.6" y1="451.8" x2="514" y2="451.8" stroke="#bdbdbd" stroke-width="1" />
<line x1="298.6" y1="427.2" x2="514" y2="427.2" stroke="#bdbdbd" stroke-width="1" />
<line x1="298.6" y1="402.6" x2="514" y2="402.6" stroke="#bdbdbd" stroke-width="1" />
<line x1="298.6" y1="378.0" x2="514" y2="378.0" stroke="#bdbdbd" stroke-width="1" />
<line x1="298.6" y1="353.4" x2="514" y2="353.4" stroke="#bdbdbd" stroke-width="1" />
<polyline points="298.6,328.8 514,328.8 514,476.4" fill="none" stroke="#888" stroke-width="1.3"/>
<polyline points="360.14,353.40 365.27,375.54 370.40,419.82 375.53,430.89 380.66,430.89 385.79,436.42 390.91,437.04 396.04,441.96 401.17,441.96 406.30,448.11 411.43,448.11 416.56,448.11 421.69,448.11 426.81,448.11 431.94,448.11 437.07,448.11 442.20,448.11 447.33,448.11 452.46,448.11 457.59,448.11 462.71,448.11 467.84,448.11 472.97,448.11 478.10,454.26 483.23,454.26 488.36,454.26 493.49,454.26 498.61,454.26 503.74,454.26 508.87,454.26" fill="none" stroke="#111" stroke-width="1.1"/>
<polygon points="360.14,351.50 362.04,353.40 360.14,355.30 358.24,353.40" fill="#111"/>
<polygon points="365.27,373.64 367.17,375.54 365.27,377.44 363.37,375.54" fill="#111"/>
<polygon points="370.40,417.92 372.30,419.82 370.40,421.72 368.50,419.82" fill="#111"/>
<polygon points="375.53,428.99 377.43,430.89 375.53,432.79 373.63,430.89" fill="#111"/>
<polygon points="380.66,428.99 382.56,430.89 380.66,432.79 378.76,430.89" fill="#111"/>
<polygon points="385.79,434.52 387.69,436.42 385.79,438.32 383.89,436.42" fill="#111"/>
<polygon points="390.91,435.14 392.81,437.04 390.91,438.94 389.01,437.04" fill="#111"/>
<polygon points="396.04,440.06 397.94,441.96 396.04,443.86 394.14,441.96" fill="#111"/>
<polygon points="401.17,440.06 403.07,441.96 401.17,443.86 399.27,441.96" fill="#111"/>
<polygon points="406.30,446.21 408.20,448.11 406.30,450.01 404.40,448.11" fill="#111"/>
<polygon points="411.43,446.21 413.33,448.11 411.43,450.01 409.53,448.11" fill="#111"/>
<polygon points="416.56,446.21 418.46,448.11 416.56,450.01 414.66,448.11" fill="#111"/>
<polygon points="421.69,446.21 423.59,448.11 421.69,450.01 419.79,448.11" fill="#111"/>
<polygon points="426.81,446.21 428.71,448.11 426.81,450.01 424.91,448.11" fill="#111"/>
<polygon points="431.94,446.21 433.84,448.11 431.94,450.01 430.04,448.11" fill="#111"/>
<polygon points="437.07,446.21 438.97,448.11 437.07,450.01 435.17,448.11" fill="#111"/>
<polygon points="442.20,446.21 444.10,448.11 442.20,450.01 440.30,448.11" fill="#111"/>
<polygon points="447.33,446.21 449.23,448.11 447.33,450.01 445.43,448.11" fill="#111"/>
<polygon points="452.46,446.21 454.36,448.11 452.46,450.01 450.56,448.11" fill="#111"/>
<polygon points="457.59,446.21 459.49,448.11 457.59,450.01 455.69,448.11" fill="#111"/>
<polygon points="462.71,446.21 464.61,448.11 462.71,450.01 460.81,448.11" fill="#111"/>
<polygon points="467.84,446.21 469.74,448.11 467.84,450.01 465.94,448.11" fill="#111"/>
<polygon points="472.97,446.21 474.87,448.11 472.97,450.01 471.07,448.11" fill="#111"/>
<polygon points="478.10,452.36 480.00,454.26 478.10,456.16 476.20,454.26" fill="#111"/>
<polygon points="483.23,452.36 485.13,454.26 483.23,456.16 481.33,454.26" fill="#111"/>
<polygon points="488.36,452.36 490.26,454.26 488.36,456.16 486.46,454.26" fill="#111"/>
<polygon points="493.49,452.36 495.39,454.26 493.49,456.16 491.59,454.26" fill="#111"/>
<polygon points="498.61,452.36 500.51,454.26 498.61,456.16 496.71,454.26" fill="#111"/>
<polygon points="503.74,452.36 505.64,454.26 503.74,456.16 501.84,454.26" fill="#111"/>
<polygon points="508.87,452.36 510.77,454.26 508.87,456.16 506.97,454.26" fill="#111"/>
<polyline points="298.60,353.40 303.73,353.40 308.86,353.40 313.99,353.40 319.11,353.40 324.24,353.40 329.37,353.40 334.50,353.40 339.63,353.40 344.76,353.40 349.89,353.40 355.01,353.40 360.14,353.40 365.27,371.85 370.40,396.45 375.53,402.60 380.66,402.60 385.79,408.75 390.91,408.75 396.04,421.05 401.17,421.05 406.30,433.35 411.43,433.35 416.56,433.35 421.69,433.35 426.81,433.35 431.94,439.50 437.07,439.50 442.20,439.50 447.33,439.50 452.46,439.50 457.59,439.50 462.71,439.50 467.84,439.50 472.97,439.50 478.10,439.50 483.23,445.65 488.36,445.65 493.49,445.65 498.61,445.65 503.74,445.65 508.87,445.65" fill="none" stroke="#d8232f" stroke-width="1.1"/>
<rect x="296.70" y="351.50" width="3.8" height="3.8" fill="#d8232f"/>
<rect x="301.83" y="351.50" width="3.8" height="3.8" fill="#d8232f"/>
<rect x="306.96" y="351.50" width="3.8" height="3.8" fill="#d8232f"/>
<rect x="312.09" y="351.50" width="3.8" height="3.8" fill="#d8232f"/>
<rect x="317.21" y="351.50" width="3.8" height="3.8" fill="#d8232f"/>
<rect x="322.34" y="351.50" width="3.8" height="3.8" fill="#d8232f"/>
<rect x="327.47" y="351.50" width="3.8" height="3.8" fill="#d8232f"/>
<rect x="332.60" y="351.50" width="3.8" height="3.8" fill="#d8232f"/>
<rect x="337.73" y="351.50" width="3.8" height="3.8" fill="#d8232f"/>
<rect x="342.86" y="351.50" width="3.8" height="3.8" fill="#d8232f"/>
<rect x="347.99" y="351.50" width="3.8" height="3.8" fill="#d8232f"/>
<rect x="353.11" y="351.50" width="3.8" height="3.8" fill="#d8232f"/>
<rect x="358.24" y="351.50" width="3.8" height="3.8" fill="#d8232f"/>
<rect x="363.37" y="369.95" width="3.8" height="3.8" fill="#d8232f"/>
<rect x="368.50" y="394.55" width="3.8" height="3.8" fill="#d8232f"/>
<rect x="373.63" y="400.70" width="3.8" height="3.8" fill="#d8232f"/>
<rect x="378.76" y="400.70" width="3.8" height="3.8" fill="#d8232f"/>
<rect x="383.89" y="406.85" width="3.8" height="3.8" fill="#d8232f"/>
<rect x="389.01" y="406.85" width="3.8" height="3.8" fill="#d8232f"/>
<rect x="394.14" y="419.15" width="3.8" height="3.8" fill="#d8232f"/>
<rect x="399.27" y="419.15" width="3.8" height="3.8" fill="#d8232f"/>
<rect x="404.40" y="431.45" width="3.8" height="3.8" fill="#d8232f"/>
<rect x="409.53" y="431.45" width="3.8" height="3.8" fill="#d8232f"/>
<rect x="414.66" y="431.45" width="3.8" height="3.8" fill="#d8232f"/>
<rect x="419.79" y="431.45" width="3.8" height="3.8" fill="#d8232f"/>
<rect x="424.91" y="431.45" width="3.8" height="3.8" fill="#d8232f"/>
<rect x="430.04" y="437.60" width="3.8" height="3.8" fill="#d8232f"/>
<rect x="435.17" y="437.60" width="3.8" height="3.8" fill="#d8232f"/>
<rect x="440.30" y="437.60" width="3.8" height="3.8" fill="#d8232f"/>
<rect x="445.43" y="437.60" width="3.8" height="3.8" fill="#d8232f"/>
<rect x="450.56" y="437.60" width="3.8" height="3.8" fill="#d8232f"/>
<rect x="455.69" y="437.60" width="3.8" height="3.8" fill="#d8232f"/>
<rect x="460.81" y="437.60" width="3.8" height="3.8" fill="#d8232f"/>
<rect x="465.94" y="437.60" width="3.8" height="3.8" fill="#d8232f"/>
<rect x="471.07" y="437.60" width="3.8" height="3.8" fill="#d8232f"/>
<rect x="476.20" y="437.60" width="3.8" height="3.8" fill="#d8232f"/>
<rect x="481.33" y="443.75" width="3.8" height="3.8" fill="#d8232f"/>
<rect x="486.46" y="443.75" width="3.8" height="3.8" fill="#d8232f"/>
<rect x="491.59" y="443.75" width="3.8" height="3.8" fill="#d8232f"/>
<rect x="496.71" y="443.75" width="3.8" height="3.8" fill="#d8232f"/>
<rect x="501.84" y="443.75" width="3.8" height="3.8" fill="#d8232f"/>
<rect x="506.97" y="443.75" width="3.8" height="3.8" fill="#d8232f"/>
<line x1="298.6" y1="328.8" x2="298.6" y2="476.9" stroke="#7a7a7a" stroke-width="1.1" />
<line x1="298.1" y1="476.4" x2="514" y2="476.4" stroke="#555" stroke-width="1.3" />
<line x1="295.6" y1="476.4" x2="298.6" y2="476.4" stroke="#777" stroke-width="1" />
<text x="296.2" y="478.4" font-size="9.4" text-anchor="end" fill="#222" font-weight="normal" >0</text>
<line x1="295.6" y1="451.8" x2="298.6" y2="451.8" stroke="#777" stroke-width="1" />
<text x="296.2" y="453.8" font-size="9.4" text-anchor="end" fill="#222" font-weight="normal" >20</text>
<line x1="295.6" y1="427.2" x2="298.6" y2="427.2" stroke="#777" stroke-width="1" />
<text x="296.2" y="429.2" font-size="9.4" text-anchor="end" fill="#222" font-weight="normal" >40</text>
<line x1="295.6" y1="402.6" x2="298.6" y2="402.6" stroke="#777" stroke-width="1" />
<text x="296.2" y="404.6" font-size="9.4" text-anchor="end" fill="#222" font-weight="normal" >60</text>
<line x1="295.6" y1="378.0" x2="298.6" y2="378.0" stroke="#777" stroke-width="1" />
<text x="296.2" y="380.0" font-size="9.4" text-anchor="end" fill="#222" font-weight="normal" >80</text>
<line x1="295.6" y1="353.4" x2="298.6" y2="353.4" stroke="#777" stroke-width="1" />
<text x="296.2" y="355.4" font-size="9.4" text-anchor="end" fill="#222" font-weight="normal" >100</text>
<line x1="295.6" y1="328.8" x2="298.6" y2="328.8" stroke="#777" stroke-width="1" />
<text x="296.2" y="330.8" font-size="9.4" text-anchor="end" fill="#222" font-weight="normal" >120</text>
<line x1="298.6" y1="476.4" x2="298.6" y2="479.4" stroke="#555" stroke-width="1" />
<text x="299.20000000000005" y="487.3" font-size="9" text-anchor="middle" fill="#222" font-weight="normal" >1</text>
<line x1="299.6" y1="492.8" x2="299.6" y2="497.6" stroke="#222" stroke-width="1" />
<polygon points="299.6,490.6 297.8,493.8 301.40000000000003,493.8" fill="#222"/>
<text x="301.40000000000003" y="506" font-size="8.8" text-anchor="middle" fill="#222" font-weight="normal" textLength="14.8" lengthAdjust="spacingAndGlyphs" >5FU</text>
<line x1="334.5" y1="476.4" x2="334.5" y2="479.4" stroke="#555" stroke-width="1" />
<text x="335.1" y="487.3" font-size="9" text-anchor="middle" fill="#222" font-weight="normal" >8</text>
<line x1="335.5" y1="492.8" x2="335.5" y2="497.6" stroke="#222" stroke-width="1" />
<polygon points="335.5,490.6 333.7,493.8 337.3,493.8" fill="#222"/>
<text x="337.3" y="506" font-size="8.8" text-anchor="middle" fill="#222" font-weight="normal" textLength="14.8" lengthAdjust="spacingAndGlyphs" >5FU</text>
<line x1="370.4" y1="476.4" x2="370.4" y2="479.4" stroke="#555" stroke-width="1" />
<text x="371.0" y="487.3" font-size="9" text-anchor="middle" fill="#222" font-weight="normal" >15</text>
<line x1="371.4" y1="492.8" x2="371.4" y2="497.6" stroke="#222" stroke-width="1" />
<polygon points="371.4,490.6 369.59999999999997,493.8 373.2,493.8" fill="#222"/>
<text x="373.2" y="506" font-size="8.8" text-anchor="middle" fill="#222" font-weight="normal" textLength="14.8" lengthAdjust="spacingAndGlyphs" >5FU</text>
<line x1="406.3" y1="476.4" x2="406.3" y2="479.4" stroke="#555" stroke-width="1" />
<text x="406.90000000000003" y="487.3" font-size="9" text-anchor="middle" fill="#222" font-weight="normal" >22</text>
<line x1="407.3" y1="492.8" x2="407.3" y2="497.6" stroke="#222" stroke-width="1" />
<polygon points="407.3,490.6 405.5,493.8 409.1,493.8" fill="#222"/>
<text x="409.1" y="506" font-size="8.8" text-anchor="middle" fill="#222" font-weight="normal" textLength="14.8" lengthAdjust="spacingAndGlyphs" >5FU</text>
<line x1="442.2" y1="476.4" x2="442.2" y2="479.4" stroke="#555" stroke-width="1" />
<text x="442.8" y="487.3" font-size="9" text-anchor="middle" fill="#222" font-weight="normal" >29</text>
<line x1="443.2" y1="492.8" x2="443.2" y2="497.6" stroke="#222" stroke-width="1" />
<polygon points="443.2,490.6 441.4,493.8 445.0,493.8" fill="#222"/>
<text x="445.0" y="506" font-size="8.8" text-anchor="middle" fill="#222" font-weight="normal" textLength="14.8" lengthAdjust="spacingAndGlyphs" >5FU</text>
<line x1="478.1" y1="476.4" x2="478.1" y2="479.4" stroke="#555" stroke-width="1" />
<text x="478.70000000000005" y="487.3" font-size="9" text-anchor="middle" fill="#222" font-weight="normal" >36</text>
<line x1="479.1" y1="492.8" x2="479.1" y2="497.6" stroke="#222" stroke-width="1" />
<polygon points="479.1,490.6 477.3,493.8 480.90000000000003,493.8" fill="#222"/>
<text x="480.90000000000003" y="506" font-size="8.8" text-anchor="middle" fill="#222" font-weight="normal" textLength="14.8" lengthAdjust="spacingAndGlyphs" >5FU</text>
<line x1="514.0" y1="476.4" x2="514.0" y2="479.4" stroke="#555" stroke-width="1" />
<text x="514.6" y="487.3" font-size="9" text-anchor="middle" fill="#222" font-weight="normal" >43</text>
<text x="393.75" y="518.8" font-size="8.2" text-anchor="middle" fill="#222" font-weight="normal" >Days</text>
<text transform="translate(278.3,400.6) rotate(-90)" text-anchor="middle" font-size="8.6" fill="#333" textLength="46" lengthAdjust="spacingAndGlyphs">Survival (%)</text>
<rect x="448.5" y="329.3" width="65" height="18.7" fill="#fff" stroke="#222" stroke-width="1.2"/>
<line x1="452.3" y1="335" x2="460.8" y2="335" stroke="#111" stroke-width="1.8" />
<line x1="452.3" y1="343.2" x2="460.8" y2="343.2" stroke="#d8232f" stroke-width="1.8" />
<text x="463.8" y="338.2" font-size="8" fill="#222">Aldh<tspan font-size="5.3" dy="-3">+/+</tspan><tspan dy="3"> and </tspan><tspan font-size="5.3" dy="-3">+/-</tspan></text>
<text x="463.8" y="345.8" font-size="8" fill="#222">Aldh<tspan font-size="5.3" dy="-3">-/-</tspan></text>
</svg></body></html>
